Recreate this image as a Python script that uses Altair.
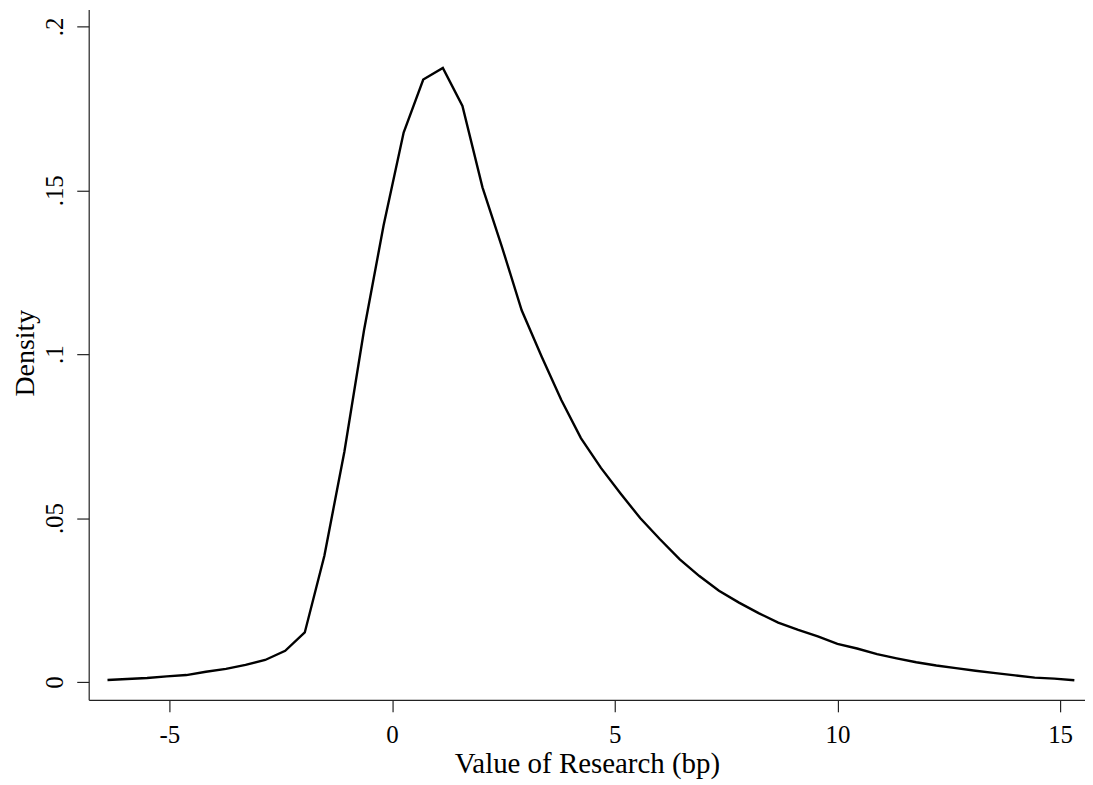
import altair as alt
import pandas as pd

# Density curve (kernel density evaluated at 50 points)
x_vals = [-6.39, -5.95, -5.50, -5.06, -4.62, -4.18, -3.73, -3.29, -2.85, -2.40,
          -1.96, -1.52, -1.07, -0.63, -0.19, 0.26, 0.70, 1.14, 1.58, 2.03,
          2.47, 2.91, 3.36, 3.80, 4.24, 4.69, 5.13, 5.57, 6.01, 6.46,
          6.90, 7.34, 7.79, 8.23, 8.67, 9.12, 9.56, 10.00, 10.44, 10.89,
          11.33, 11.77, 12.22, 12.66, 13.10, 13.55, 13.99, 14.43, 14.87, 15.32]
density = [0.0006, 0.0009, 0.0012, 0.0017, 0.0021, 0.0031, 0.0040, 0.0052, 0.0067, 0.0095,
           0.0151, 0.0385, 0.0703, 0.1073, 0.1393, 0.1676, 0.1838, 0.1873, 0.1757, 0.1509,
           0.1326, 0.1134, 0.0992, 0.0860, 0.0744, 0.0653, 0.0575, 0.0500, 0.0436, 0.0374,
           0.0323, 0.0278, 0.0242, 0.0210, 0.0181, 0.0159, 0.0139, 0.0116, 0.0102, 0.0085,
           0.0072, 0.0060, 0.0050, 0.0042, 0.0034, 0.0027, 0.0020, 0.0013, 0.0010, 0.0005]

x_ticks = [-5, 0, 5, 10, 15]
x_tick_labels = ["-5", "0", "5", "10", "15"]
y_ticks = [0, 0.05, 0.1, 0.15, 0.2]
y_tick_labels = ["0", ".05", ".1", ".15", ".2"]

x_title = "Value of Research (bp)"
y_title = "Density"


def label_expr(values, labels):
    expr = "''"
    for v, l in reversed(list(zip(values, labels))):
        expr = f"(abs(datum.value - ({v})) < 1e-9 ? '{l}' : {expr})"
    return expr


df = pd.DataFrame({"x": x_vals, "y": density})

FONT = "Liberation Serif"

chart = (
    alt.Chart(df)
    .mark_line(color="black", strokeWidth=2.4, interpolate="linear")
    .encode(
        x=alt.X(
            "x:Q",
            scale=alt.Scale(domain=[-6.812, 15.559], nice=False, zero=False),
            axis=alt.Axis(
                values=x_ticks,
                labelExpr=label_expr(x_ticks, x_tick_labels),
                title=x_title,
                tickSize=12,
                labelPadding=31,
                labelBaseline="alphabetic",
                labelAlign="center",
                titleY=73,
                titleBaseline="alphabetic",
            ),
        ),
        y=alt.Y(
            "y:Q",
            scale=alt.Scale(domain=[-0.00547, 0.20517], nice=False, zero=False),
            axis=alt.Axis(
                values=y_ticks,
                labelExpr=label_expr(y_ticks, y_tick_labels),
                title=y_title,
                tickSize=12,
                labelAngle=270,
                labelAlign="center",
                labelBaseline="alphabetic",
                labelPadding=14,
                titleAngle=270,
                titleAlign="center",
                titleBaseline="alphabetic",
                titleFontSize=28,
                titleX=-55,
                titleY=344.5,
            ),
        ),
    )
    .properties(
        width=1000,
        height=693,
        autosize=alt.AutoSizeParams(type="none"),
        padding={"left": 81, "top": 0, "right": 0, "bottom": 81},
        background="white",
    )
    .configure_view(stroke=None)
    .configure_axis(
        grid=False,
        domainColor="#222222",
        domainWidth=1.2,
        tickColor="#222222",
        tickWidth=1.2,
        labelFont=FONT,
        labelFontSize=25,
        labelColor="black",
        titleFont=FONT,
        titleFontSize=29,
        titleFontWeight="normal",
        titleColor="black",
        labelFlush=False,
        labelOverlap=False,
    )
)

chart.save("out.html", embed_options={"renderer": "svg", "actions": False})
